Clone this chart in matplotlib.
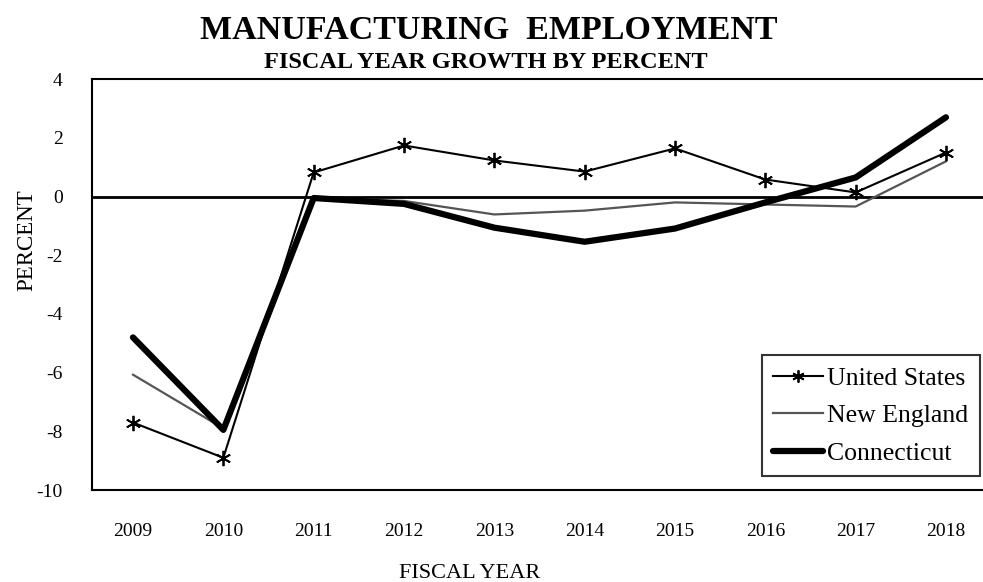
import matplotlib
matplotlib.use('Agg')
import matplotlib.pyplot as plt
import numpy as np

plt.rcParams['font.family'] = ['Liberation Serif', 'DejaVu Serif']

years = [2009, 2010, 2011, 2012, 2013, 2014, 2015, 2016, 2017, 2018]
united_states = [-7.7, -8.9, 0.82, 1.74, 1.23, 0.85, 1.64, 0.58, 0.14, 1.5]
new_england = [-6.07, -7.9, -0.05, -0.15, -0.61, -0.48, -0.2, -0.27, -0.34, 1.2]
connecticut = [-4.8, -7.95, -0.05, -0.25, -1.06, -1.54, -1.09, -0.2, 0.65, 2.7]
y_ticks = [-10, -8, -6, -4, -2, 0, 2, 4]

fig = plt.figure(figsize=(9.83, 5.82), dpi=100)
ax = fig.add_axes([0.0936, 0.158, 0.9064, 0.706])

x = np.arange(len(years))
ax.axhline(0, color='black', lw=2, zorder=1)
ax.plot(x, united_states, color='black', lw=1.5, marker=(6, 2, 0), ms=11, mew=1.3,
        label='United States', zorder=3)
ax.plot(x, new_england, color='#555555', lw=1.6, label='New England', zorder=2)
ax.plot(x, connecticut, color='black', lw=4.5, solid_capstyle='round',
        label='Connecticut', zorder=4)

ax.set_xlim(-0.454, 9.41)
ax.set_ylim(-10, 4)
ax.set_xticks(x)
ax.set_xticklabels([str(y) for y in years])
ax.set_yticks(y_ticks)
ax.set_yticklabels([str(v) for v in y_ticks])
ax.tick_params(length=0, labelsize=14)
ax.tick_params(axis='x', pad=24)
ax.tick_params(axis='y', pad=21)

for s in ['top', 'bottom', 'left']:
    ax.spines[s].set_color('black')
    ax.spines[s].set_linewidth(1.5)
ax.spines['right'].set_visible(False)

# axis titles placed in figure coords to match the reference layout
fig.text(470 / 983, 1 - 573 / 582, 'FISCAL YEAR', ha='center', va='center',
         fontsize=16)
fig.text(27 / 983, 1 - 240 / 582, 'PERCENT', rotation=90, ha='center', va='center',
         fontsize=16.5)

fig.text(0.497, 0.948, 'MANUFACTURING  EMPLOYMENT', ha='center', va='center',
         fontsize=24.5, fontweight='bold')
fig.text(0.494, 0.893, 'FISCAL YEAR GROWTH BY PERCENT', ha='center', va='center',
         fontsize=17.5, fontweight='bold')

leg = ax.legend(loc='lower right', bbox_to_anchor=(0.9966, 0.034), borderaxespad=0,
                fontsize=18.5, frameon=True, fancybox=False, edgecolor='black',
                handlelength=1.95, handletextpad=0.15, labelspacing=0.56,
                borderpad=0.45, markerscale=0.8)
leg.get_frame().set_linewidth(1.5)

fig.savefig('out.png', dpi=100)
